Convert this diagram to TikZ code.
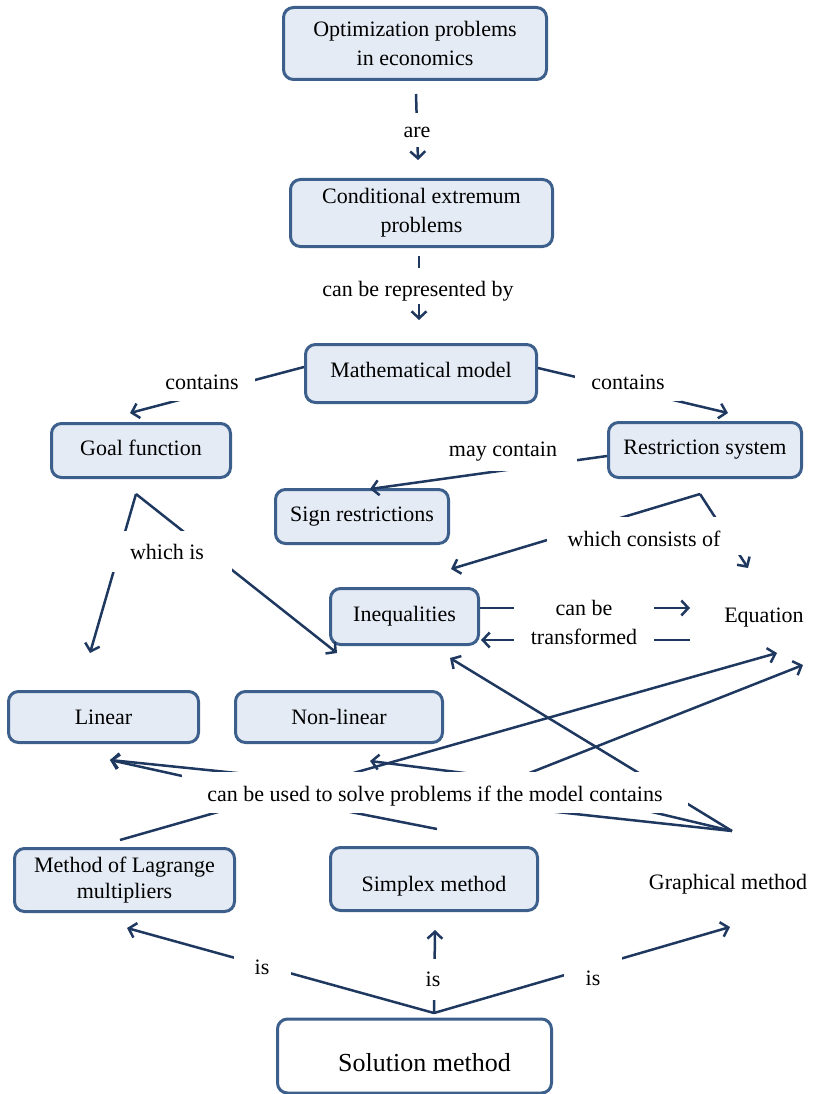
\documentclass[tikz,border=0pt]{standalone}
\usepackage{fontspec}
\setmainfont{Liberation Serif}
\usetikzlibrary{arrows.meta}
\definecolor{linkblue}{RGB}{31,56,96}
\definecolor{boxedge}{RGB}{61,95,140}
\definecolor{boxfill}{RGB}{228,235,245}
\tikzset{
    > = {Straight Barb[length=7pt, width=15pt]},
    every node/.style = {font=\fontsize{22}{29}\selectfont},
    size/.style 2 args = {minimum width=#1pt, minimum height=#2pt},
    concept/.style = {draw=boxedge, line width=3pt, fill=boxfill, rounded corners=10pt, align=center, inner sep=0pt},
    phrase/.style = {fill=white, inner sep=0pt, align=center},
    conn/.style = {draw=linkblue, line width=2.5pt}
}

\begin{document}
\begin{tikzpicture}[x=1pt, y=-1pt]
    \useasboundingbox (0,0) rectangle (814,1094);

    \node[concept, size={263}{72}] (opt) at (415,43.5) {Optimization problems\\in economics};
    \node[concept, size={262}{67}] (cond) at (421.5,213) {Conditional extremum\\problems};
    \node[concept, size={231}{58}, text depth=8pt] (math) at (421,373.5) {Mathematical model};
    \node[concept, size={179}{54}, text depth=6pt] (goal) at (141,450.5) {Goal function};
    \node[concept, size={193}{55}] (restr) at (705,450) {Restriction system};
    \node[concept, size={173}{54}] (sign) at (362,516.5) {Sign restrictions};
    \node[concept, size={148}{56}] (ineq) at (404.5,616.5) {Inequalities};
    \node (eq) at (764,618) {Equation};
    \node[concept, size={190}{51}] (linear) at (103.5,717) {Linear};
    \node[concept, size={207}{51}] (nonlin) at (339,717) {Non-linear};
    \node[concept, size={220}{63}, font=\fontsize{22}{26}\selectfont] (lagr) at (124.5,880) {Method of Lagrange\\multipliers};
    \node[concept, size={207}{63}, text height=29pt] (simplex) at (434,879) {Simplex method};
    \node (graph) at (728,884) {Graphical method};
    \node[concept, fill=white, size={274}{74}, text height=32pt, font=\fontsize{26}{30}\selectfont] (sol) at (414.5,1056) {\hspace*{20pt}Solution method};

    \coordinate (opt-out) at (416,94);      \coordinate (cond-in) at (418,160);
    \coordinate (cond-out) at (419,256);    \coordinate (math-in) at (419,320);
    \coordinate (math-l) at (304,367);      \coordinate (goal-in) at (130,413);
    \coordinate (math-r) at (538,368);      \coordinate (restr-in) at (728,413);
    \coordinate (restr-l) at (607,456);     \coordinate (sign-in) at (370,489);
    \coordinate (restr-out) at (700,494);
    \coordinate (ineq-in1) at (451,569);    \coordinate (eq-in1) at (748,568);
    \coordinate (goal-out) at (136,494);
    \coordinate (lin-in1) at (90,653);      \coordinate (nonlin-in1) at (337,653);
    \coordinate (ineq-r) at (480,608);      \coordinate (eq-in2) at (690,608);
    \coordinate (eq-l) at (690,640);        \coordinate (ineq-in3) at (481,640);
    \coordinate (lagr-out) at (120,840);    \coordinate (simp-out) at (437,829);
    \coordinate (graph-out) at (732,831);
    \coordinate (u1) at (260,800);   \coordinate (u2) at (320,806);
    \coordinate (u3) at (660,787);   \coordinate (u4) at (520,808);
    \coordinate (u5) at (610,802);
    \coordinate (v1) at (300,779.5); \coordinate (v2) at (250,791);
    \coordinate (v3) at (480,775);   \coordinate (v4) at (320,782.5);
    \coordinate (v5) at (500,784.6); \coordinate (v6) at (670,792);
    \coordinate (lin-in2) at (110,760);     \coordinate (nonlin-in2) at (370,761);
    \coordinate (eq-in3) at (777,653);      \coordinate (eq-in4) at (803,665);
    \coordinate (ineq-in4) at (450,658);
    \coordinate (sol-out) at (434,1013);
    \coordinate (lagr-in) at (127,928);     \coordinate (simp-in) at (435,930);
    \coordinate (graph-in) at (730,927);

    \draw[conn, ->] (opt-out) -- (cond-in);
    \draw[conn, ->] (cond-out) -- (math-in);
    \draw[conn, ->] (math-l) -- (goal-in);
    \draw[conn, ->] (math-r) -- (restr-in);
    \draw[conn, ->] (restr-l) -- (sign-in);
    \draw[conn, ->] (restr-out) -- (ineq-in1);
    \draw[conn, ->] (restr-out) -- (eq-in1);
    \draw[conn, ->] (goal-out) -- (lin-in1);
    \draw[conn, ->] (goal-out) -- (nonlin-in1);
    \draw[conn, ->] (ineq-r) -- (eq-in2);
    \draw[conn, ->] (eq-l) -- (ineq-in3);
    \draw[conn] (lagr-out) -- (u1);
    \draw[conn] (simp-out) -- (u2);
    \draw[conn] (graph-out) -- (u3);
    \draw[conn] (graph-out) -- (u4);
    \draw[conn] (graph-out) -- (u5);
    \draw[conn, ->] (v1) -- (lin-in2);
    \draw[conn, ->] (v2) -- (lin-in2);
    \draw[conn, ->] (v3) -- (nonlin-in2);
    \draw[conn, ->] (v4) -- (eq-in3);
    \draw[conn, ->] (v5) -- (eq-in4);
    \draw[conn, ->] (v6) -- (ineq-in4);
    \draw[conn, ->] (sol-out) -- (lagr-in);
    \draw[conn, ->] (sol-out) -- (simp-in);
    \draw[conn, ->] (sol-out) -- (graph-in);

    \node[phrase, size={40}{34}, text height=16pt] (are) at (417,130) {are};
    \node[phrase, size={215}{36}, text height=25pt] (repr) at (418,286) {can be represented by};
    \node[phrase, size={106}{38}] (contl) at (202,382) {contains};
    \node[phrase, size={106}{38}] (contr) at (628,382) {contains};
    \node[phrase, size={148}{46}, text height=21pt] (may) at (503,448) {may contain};
    \node[phrase, size={195}{38}, text height=21pt] (consist) at (644,536) {which consists of};
    \node[phrase, size={130}{41}] (whichis) at (167,551.5) {which is};
    \node[phrase, size={140}{50}] (transf) at (584,622) {can be\\transformed};
    \node[phrase, size={506}{41}, text height=23pt] (used) at (435,792.5) {can be used to solve problems if the model contains};
    \node[phrase, size={57}{40}] (isl) at (262,967) {is};
    \node[phrase, size={36}{41}] (ism) at (433,979.5) {is};
    \node[phrase, size={58}{40}, text height=21pt] (isr) at (593,975) {is};
\end{tikzpicture}
\end{document}
